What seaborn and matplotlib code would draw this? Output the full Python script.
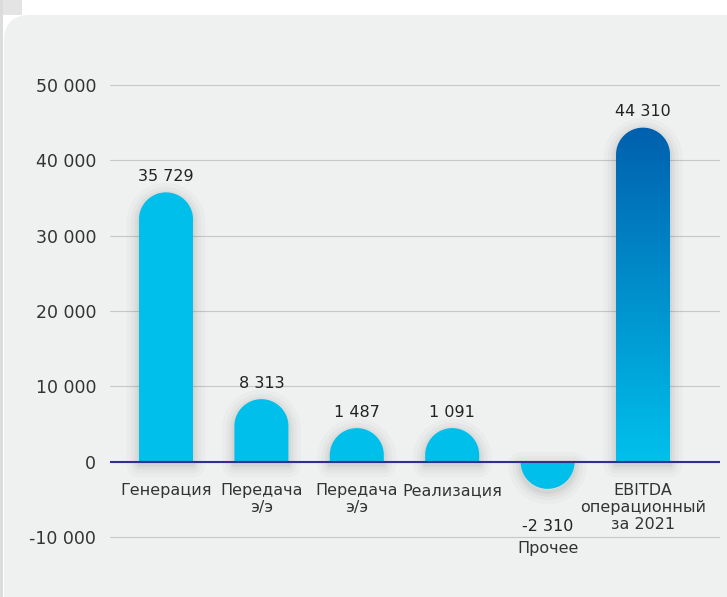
import numpy as np
import pandas as pd
import matplotlib
matplotlib.use("Agg")
import matplotlib.pyplot as plt
import seaborn as sns
from matplotlib.patches import Polygon, FancyBboxPatch, Rectangle
from matplotlib.colors import LinearSegmentedColormap
from matplotlib.ticker import FuncFormatter
from matplotlib.transforms import IdentityTransform

# ---------------------------------------------------------------
# data
# ---------------------------------------------------------------
categories = ["Генерация", "Передача\nэ/э", "Передача\nэ/э", "Реализация",
              "Прочее", "EBITDA\nоперационный\nза 2021"]
values = [35729, 8313, 1487, 1091, -2310, 44310]
value_labels = ["35 729", "8 313", "1 487", "1 091", "-2 310", "44 310"]
y_ticks = [-10000, 0, 10000, 20000, 30000, 40000, 50000]

BAR_COLOR = "#00bfea"
TEXT_COLOR = "#333333"

sns.set_style("white")
plt.rcParams["font.family"] = ["DejaVu Sans"]

W, H = 727, 597
fig = plt.figure(figsize=(W / 100, H / 100), dpi=100, facecolor="white")

# panel background (rounded card)
fig.patches.append(Rectangle((0, H - 15), 22, 15, transform=IdentityTransform(),
                             facecolor="#e4e4e4", edgecolor="none", zorder=-5))
fig.patches.append(Rectangle((0, 0), 3, H, transform=IdentityTransform(),
                             facecolor="#dcdcdc", edgecolor="none", zorder=-5))
fig.patches.append(FancyBboxPatch((4, -40), 800, H - 15 + 40,
                                  boxstyle="round,pad=0,rounding_size=26",
                                  transform=IdentityTransform(),
                                  facecolor="#eff1f1", edgecolor="none", zorder=-4))

ax = fig.add_axes([110 / W, 22 / H, 610 / W, 528 / H])
ax.set_facecolor("none")

df = pd.DataFrame({"pos": np.arange(len(values)), "value": values})
sns.barplot(data=df, x="pos", y="value", color=BAR_COLOR, saturation=1,
            width=0.566, ax=ax, errorbar=None)

x0, x1 = -0.587, 5.807
y0, y1 = -15000, 55000
ax.set_xlim(x0, x1)
ax.set_ylim(y0, y1)
sx = 610 / (x1 - x0)
sy = 528 / (y1 - y0)


def pill_points(x, w, v):
    cx = x + w / 2
    rx = w / 2
    ry = rx * sx / sy
    t = np.linspace(0, np.pi, 60)
    if v >= 0:
        top = max(v, ry * 1.25)
        ay = top - ry + ry * np.sin(t)
    else:
        bot = min(v, -ry)
        ay = bot + ry - ry * np.sin(t)
    ax_ = cx + rx * np.cos(t)
    pts = [(x + w, 0)] + list(zip(ax_, ay)) + [(x, 0)]
    return np.array(pts), ay.max() if v >= 0 else ay.min()


grad_cmap = LinearSegmentedColormap.from_list("ebitda", ["#00c0eb", "#0060ae"])

bars = list(ax.patches)
for i, p in enumerate(bars):
    v = values[i]
    x, w = p.get_x(), p.get_width()
    p.set_visible(False)
    pts, edge = pill_points(x, w, v)

    # soft shadow
    sh = pts.copy()
    sh[:, 1] -= 3 / sy
    for lw, a in [(18, 0.018), (12, 0.025), (7, 0.03), (3, 0.04)]:
        ax.add_patch(Polygon(sh, closed=True, facecolor="none", edgecolor="black",
                             lw=lw, alpha=a, joinstyle="round", zorder=1))

    if i == len(values) - 1:
        poly = Polygon(pts, closed=True, facecolor="none", edgecolor="none", zorder=3)
        ax.add_patch(poly)
        grad = np.linspace(0, 1, 256).reshape(-1, 1)
        im = ax.imshow(grad, extent=[x, x + w, 0, edge], origin="lower",
                       cmap=grad_cmap, aspect="auto", zorder=3)
        im.set_clip_path(poly)
    else:
        ax.add_patch(Polygon(pts, closed=True, facecolor=BAR_COLOR,
                             edgecolor="none", zorder=3))

    cx = x + w / 2
    if v >= 0:
        ax.annotate(value_labels[i], (cx, edge), xytext=(0, 6), textcoords="offset points",
                    ha="center", va="bottom", fontsize=11.5, color="#222222")
        ax.annotate(categories[i], (cx, 0), xytext=(0, -15), textcoords="offset points",
                    ha="center", va="top", fontsize=11.5, color=TEXT_COLOR, linespacing=1.2)
    else:
        ax.annotate(value_labels[i], (cx, edge), xytext=(0, -21.5), textcoords="offset points",
                    ha="center", va="top", fontsize=11.5, color="#222222")
        ax.annotate(categories[i], (cx, edge), xytext=(0, -37.5), textcoords="offset points",
                    ha="center", va="top", fontsize=11.5, color=TEXT_COLOR)

ax.set_xlim(x0, x1)
ax.set_ylim(y0, y1)

ax.axhline(0, color="#2e3192", lw=1.5, zorder=5)
ax.set_yticks(y_ticks)
ax.yaxis.set_major_formatter(FuncFormatter(lambda v, _: f"{int(v):,}".replace(",", " ")))
ax.grid(axis="y", color="#c8c8c8", lw=0.8)
ax.grid(axis="x", visible=False)
ax.set_axisbelow(True)
ax.set_xticks([])
ax.set_xlabel("")
ax.set_ylabel("")
ax.tick_params(axis="y", length=0, pad=10, labelsize=12.5, labelcolor=TEXT_COLOR)
for s in ax.spines.values():
    s.set_visible(False)

fig.savefig("out.png", dpi=100, facecolor="white")
